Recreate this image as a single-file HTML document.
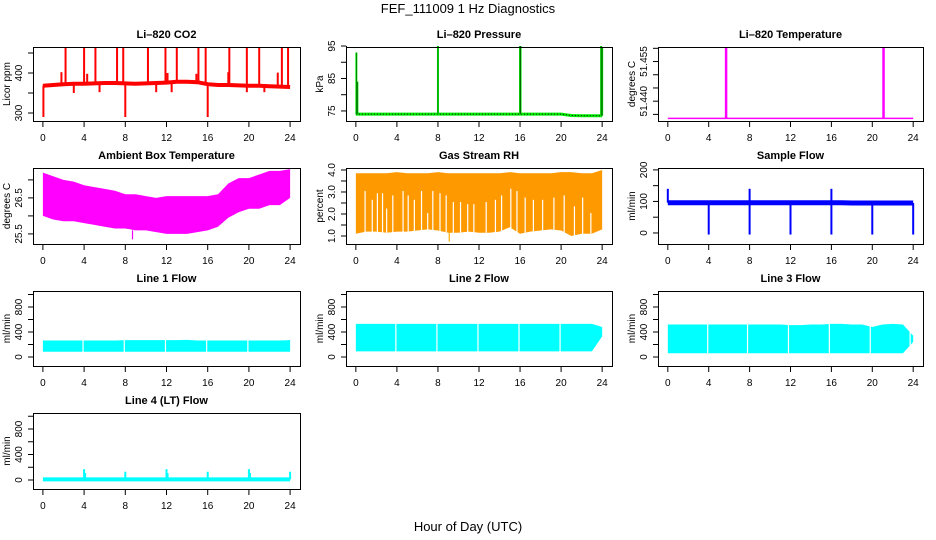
<!DOCTYPE html>
<html><head><meta charset="utf-8">
<style>
body{margin:0;background:#fff;}
svg{display:block;font-family:"Liberation Sans",Arial,sans-serif;}
</style></head>
<body>
<svg id="fig" width="936" height="540" viewBox="0 0 936 540" xmlns="http://www.w3.org/2000/svg">
<text x="468" y="13" font-size="13" text-anchor="middle">FEF_111009  1 Hz Diagnostics</text>
<text x="468" y="531" font-size="13" text-anchor="middle">Hour of Day (UTC)</text>
</svg>
<script>
// ---- data ----
const hours = [0,1,2,3,4,5,6,7,8,9,10,11,12,13,14,15,16,17,18,19,20,21,22,23,24];
const xTicks = [0,4,8,12,16,20,24];
// CO2
const co2Base = [368,370,372,373,373,374,375,375,374,373,374,375,376,378,378,377,372,370,370,369,368,368,367,366,365];
const co2SpikeHours = [2.2,4.0,5.1,7.2,7.8,10.2,11.9,13.0,15.1,15.8,18.1,19.8,21.0,23.2,23.8,1.8,4.3,12.1,14.9,18.0,22.8,0.05,8.0,16.0,3.0,5.5,11.0,12.5,19.8,21.5];
const co2SpikeVals  = [465,465,464,464,464,464,464,464,464,464,464,465,465,464,463,402,398,400,398,402,401,290,290,290,350,352,352,352,352,352];
// Pressure
const presBase = [74,74,74,74,74,74,74,74,74,74,74,74,74,74,74,74,74,74,74,74,74,73.6,73.5,73.5,73.5];
const presSpikeHours = [0.05,0.15,8.0,16.0,16.05,23.9,24.0];
const presSpikeVals  = [93,84,95,95,95,95,94.5];
// Li-820 temperature
const tempBase = [51.4335,51.4335,51.4335,51.4335,51.4335,51.4335,51.4335,51.4335,51.4335,51.4335,51.4335,51.4335,51.4335,51.4335,51.4335,51.4335,51.4335,51.4335,51.4335,51.4335,51.4335,51.4335,51.4335,51.4335,51.4335];
const tempSpikeHours = [5.7,21.1];
const tempSpikeVals  = [51.4603,51.4603];
// Ambient box temperature
const ambHi = [27.2,27.1,27.0,26.95,26.85,26.8,26.75,26.7,26.6,26.6,26.55,26.5,26.55,26.55,26.55,26.55,26.55,26.6,26.9,27.05,27.05,27.15,27.25,27.25,27.3];
const ambLo = [26.0,25.9,25.85,25.85,25.8,25.75,25.7,25.65,25.65,25.6,25.6,25.55,25.5,25.5,25.5,25.55,25.6,25.7,25.95,26.1,26.2,26.2,26.3,26.3,26.5];
// Gas stream RH
const rhHi = [3.85,3.85,3.85,3.85,3.9,3.85,3.85,3.85,3.9,3.85,3.85,3.85,3.85,3.85,3.85,3.9,3.85,3.85,3.85,3.85,3.9,3.9,3.85,3.85,4.0];
const rhLo = [1.1,1.2,1.2,1.15,1.2,1.2,1.25,1.3,1.25,1.15,1.15,1.2,1.15,1.15,1.2,1.4,1.1,1.2,1.25,1.3,1.25,1.0,1.1,1.1,1.3];
const rhGapHours = [0.9,1.6,2.1,2.6,3.0,3.6,4.6,5.1,5.7,6.4,7.0,7.5,8.2,8.8,9.5,10.2,10.9,11.5,12.7,13.6,14.2,15.1,15.7,16.5,17.3,18.2,19.3,20.3,21.3,22.1,22.9];
const rhGapTops = [3.0,2.6,2.9,2.9,2.2,2.8,3.0,2.8,2.6,3.0,2.0,3.0,2.9,2.8,2.5,2.5,2.4,2.4,2.5,2.6,2.8,3.1,3.0,2.7,2.6,2.6,2.7,2.8,2.3,2.7,2.0];
// Sample flow
const sfBase = [96,96,96,96,96,96,96,96,96,96,96,96,96,96,96,96,96,96,95,95,95,95,95,95,95];
const sfSpikeHours = [0.0,4.0,8.0,8.0,12.0,16.0,16.0,20.0,24.0];
const sfSpikeVals  = [140,-5,-5,140,-5,-5,140,-5,-5];
// Line flows
const l1Hi = [265,265,265,265,265,265,265,265,270,270,270,270,270,270,275,265,265,265,265,265,265,265,265,265,270];
const l1Lo = [85,85,85,85,85,85,85,85,85,85,85,85,85,85,85,85,85,85,85,85,85,85,85,85,85];
const l1GapHours = [3.9,7.9,11.9,15.9,19.9];
const l2Hi = [530,530,530,530,530,530,530,530,530,530,530,530,530,530,530,530,530,530,530,530,530,530,530,530,480];
const l2Lo = [90,90,90,90,90,90,90,90,90,90,90,90,90,90,90,90,90,90,90,90,90,90,90,90,330];
const l2GapHours = [3.9,7.9,11.9,15.9,19.9];
const l3Hi = [520,520,520,520,520,520,520,520,520,520,520,520,510,510,520,520,530,530,520,520,480,520,530,520,340];
const l3Lo = [60,60,60,60,60,60,60,60,60,60,60,60,60,60,60,60,60,60,60,60,60,60,60,60,240];
const l3GapHours = [3.9,7.8,11.8,15.8,19.8,23.7];
const l4Base = [10,10,10,10,10,10,10,10,10,10,10,10,10,10,10,10,10,10,10,10,10,10,10,10,10];
const l4SpikeHours = [4.0,4.1,8.0,12.0,12.1,16.0,20.0,20.1,24.0];
const l4SpikeVals  = [170,110,130,170,110,130,170,110,130];

// ---- layout ----
const NS="http://www.w3.org/2000/svg";
const svg=document.getElementById('fig');
const cols=[[33,300],[346,612],[658,923]];
const rows=[[47,121],[168,244],[291,366],[413,489]];
function mk(tag,attrs,parent){const e=document.createElementNS(NS,tag);for(const k in attrs)e.setAttribute(k,attrs[k]);(parent||svg).appendChild(e);return e;}

function panel(name,title,ylab,c,r,ylim,ticks,labels){
  const [L,R]=cols[c],[T,B]=rows[r];
  const g=mk('g',{});
  
  
  const w=R-L;
  const xs=h=>L+w*(0.04+h/24)/1.08;
  const ys=v=>B-(v-ylim[0])/(ylim[1]-ylim[0])*(B-T);
  const t=mk('text',{x:(L+R)/2,y:T-9,'font-size':11,'font-weight':'bold','text-anchor':'middle'},g);
  t.textContent=title;
  
  
  const plot=mk('g',{},g);
  
  
  const xa=mk('g',{},g);
  
  
  mk('line',{x1:xs(0),x2:xs(24),y1:B+0.5,y2:B+0.5,stroke:'#000'},xa);
  xTicks.forEach(h=>{
    mk('line',{x1:xs(h),x2:xs(h),y1:B,y2:B+6,stroke:'#000'},xa);
    const tx=mk('text',{x:xs(h),y:B+20,'font-size':10,'text-anchor':'middle'},xa);tx.textContent=h;
  });
  const ya=mk('g',{},g);
  
  
  mk('line',{x1:L+0.5,x2:L+0.5,y1:ys(ticks[0]),y2:ys(ticks[ticks.length-1]),stroke:'#000'},ya);
  ticks.forEach(v=>mk('line',{x1:L-5,x2:L,y1:ys(v),y2:ys(v),stroke:'#000'},ya));
  labels.forEach(v=>{
    const tx=mk('text',{x:0,y:0,'font-size':10,'text-anchor':'middle',transform:`translate(${L-11},${ys(+v)}) rotate(-90)`},ya);tx.textContent=v;
  });
  const yl=mk('text',{x:0,y:0,'font-size':10,'text-anchor':'middle',transform:`translate(${L-23},${(T+B)/2}) rotate(-90)`},ya);
  yl.textContent=ylab;
  
  
  mk('rect',{x:L+0.5,y:T+0.5,width:w,height:B-T,fill:'none',stroke:'#000'},g);
  return {xs,ys,plot};
}
function line(p,vals,color,width){
  mk('polyline',{points:hours.map((h,i)=>p.xs(h)+','+p.ys(vals[i])).join(' '),fill:'none',stroke:color,'stroke-width':width},p.plot);
}
function band(p,hi,lo,fill){
  const pts=hours.map((h,i)=>p.xs(h)+','+p.ys(hi[i])).concat(hours.slice().reverse().map((h,j)=>{const i=hours.length-1-j;return p.xs(h)+','+p.ys(lo[i]);}));
  mk('polygon',{points:pts.join(' '),fill:fill,stroke:'none'},p.plot);
}
function interp(arr,h){const i=Math.min(23,Math.floor(h));const f=h-i;return arr[i]*(1-f)+arr[i+1]*f;}
function spikes(p,base,hs,vs,color,width){
  hs.forEach((h,i)=>mk('line',{x1:p.xs(h),x2:p.xs(h),y1:p.ys(interp(base,h)),y2:p.ys(vs[i]),stroke:color,'stroke-width':width},p.plot));
}
function gaps(p,hs,lo,tops,fallbackTop){
  hs.forEach((h,i)=>mk('line',{x1:p.xs(h),x2:p.xs(h),y1:p.ys(interp(lo,h))+1,y2:p.ys(tops?tops[i]:interp(fallbackTop,h))-1,stroke:'#fff','stroke-width':1.2},p.plot));
}

let p=panel('co2','Li\u2013820 CO2','Licor ppm',0,0,[280,465],[300,350,400,450],['300','400']);
line(p,co2Base,'#ff0000',4);
spikes(p,co2Base,co2SpikeHours,co2SpikeVals,'#ff0000',2);
p=panel('pressure','Li\u2013820 Pressure','kPa',1,0,[71.9,94.7],[75,80,85,90,95],['75','85','95']);
line(p,presBase,'#00ee00',3);
mk('polyline',{points:hours.map((h,i)=>p.xs(h)+','+p.ys(presBase[i])).join(' '),fill:'none',stroke:'#000','stroke-width':1,'stroke-dasharray':'1,2'},p.plot);
spikes(p,presBase,presSpikeHours,presSpikeVals,'#00ee00',2);
spikes(p,presBase,presSpikeHours,presSpikeVals,'#004400',0.6);
p=panel('li820-temperature','Li\u2013820 Temperature','degrees C',2,0,[51.4325,51.4605],[51.435,51.440,51.445,51.450,51.455,51.460],['51.440','51.455']);
line(p,tempBase,'#ff00ff',1.5);
spikes(p,tempBase,tempSpikeHours,tempSpikeVals,'#ff00ff',2.5);
p=panel('ambient-temperature','Ambient Box Temperature','degrees C',0,1,[25.22,27.33],[25.5,26,26.5,27],['25.5','26.5']);
band(p,ambHi,ambLo,'#ff00ff');
mk('line',{x1:p.xs(8.7),x2:p.xs(8.7),y1:p.ys(25.6),y2:p.ys(25.35),stroke:'#ff00ff','stroke-width':1.2},p.plot);
p=panel('gas-stream-rh','Gas Stream RH','percent',1,1,[0.636,4.09],[1,1.5,2,2.5,3,3.5,4],['1.0','2.0','3.0','4.0']);
band(p,rhHi,rhLo,'#ff9900');
gaps(p,rhGapHours,rhLo,rhGapTops);
mk('line',{x1:p.xs(9.1),x2:p.xs(9.1),y1:p.ys(1.2),y2:p.ys(0.75),stroke:'#ffaa00','stroke-width':1.2},p.plot);
p=panel('sample-flow','Sample Flow','ml/min',2,1,[-35,206],[0,50,100,150,200],['0','100','200']);
line(p,sfBase,'#0000ff',5);
spikes(p,sfBase,sfSpikeHours,sfSpikeVals,'#0000ff',2);
p=panel('line1-flow','Line 1 Flow','ml/min',0,2,[-144,1056],[0,200,400,600,800,1000],['0','400','800']);
band(p,l1Hi,l1Lo,'#00ffff');gaps(p,l1GapHours,l1Lo,null,l1Hi);
p=panel('line2-flow','Line 2 Flow','ml/min',1,2,[-144,1056],[0,200,400,600,800,1000],['0','400','800']);
band(p,l2Hi,l2Lo,'#00ffff');gaps(p,l2GapHours,l2Lo,null,l2Hi);
p=panel('line3-flow','Line 3 Flow','ml/min',2,2,[-144,1056],[0,200,400,600,800,1000],['0','400','800']);
band(p,l3Hi,l3Lo,'#00ffff');gaps(p,l3GapHours,l3Lo,null,l3Hi);
p=panel('line4-flow','Line 4 (LT) Flow','ml/min',0,3,[-141,1051],[0,200,400,600,800,1000],['0','400','800']);
line(p,l4Base,'#00ffff',4);
spikes(p,l4Base,l4SpikeHours,l4SpikeVals,'#00ffff',2);
</script>
</body></html>
